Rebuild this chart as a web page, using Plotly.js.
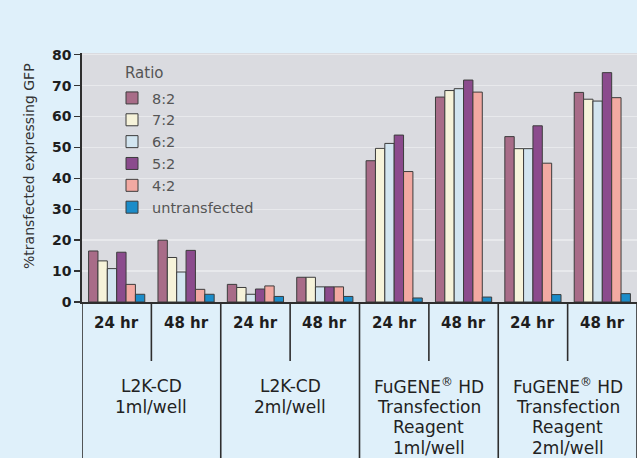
<!DOCTYPE html>
<html><head><meta charset="utf-8">
<script src="https://cdn.plot.ly/plotly-3.0.1.min.js"></script>
<style>html,body{margin:0;padding:0;background:#dff0fa}</style>
</head><body><div id="chart" style="width:637px;height:458px"></div>
<script>
const categories = ["L2K-CD 1ml 24 hr","L2K-CD 1ml 48 hr","L2K-CD 2ml 24 hr","L2K-CD 2ml 48 hr","FuGENE 1ml 24 hr","FuGENE 1ml 48 hr","FuGENE 2ml 24 hr","FuGENE 2ml 48 hr"];
const timeLabels = ["24 hr","48 hr","24 hr","48 hr","24 hr","48 hr","24 hr","48 hr"];
const groupLabels = [
  ["L2K-CD","1ml/well"],
  ["L2K-CD","2ml/well"],
  ["FuGENE<sup>®</sup> HD","Transfection","Reagent","1ml/well"],
  ["FuGENE<sup>®</sup> HD","Transfection","Reagent","2ml/well"]
];
const seriesNames = ["8:2","7:2","6:2","5:2","4:2","untransfected"];
const ratio82 = [16.5,20.0,5.7,8.0,45.7,66.3,53.5,67.8];
const ratio72 = [13.3,14.4,4.7,8.0,49.7,68.4,49.6,65.6];
const ratio62 = [10.8,9.7,2.5,4.9,51.3,69.0,49.6,65.0];
const ratio52 = [16.1,16.7,4.2,4.9,54.0,71.8,57.0,74.2];
const ratio42 = [5.7,4.1,5.2,4.9,42.2,67.9,44.9,66.1];
const untransfected = [2.5,2.5,1.8,1.8,1.3,1.6,2.4,2.7];
const yTicks = [0,10,20,30,40,50,60,70,80];

const seriesValues = [ratio82, ratio72, ratio62, ratio52, ratio42, untransfected];
const colors = ["#a86c88","#f6f3da","#d2e5f0","#8b4b8d","#f2a9a2","#1b8cc9"];

const traces = seriesNames.map((n, i) => ({
  type: "bar", name: n, x: categories, y: seriesValues[i],
  marker: {color: colors[i], line: {color: "#3c3c3c", width: 1}},
  hoverinfo: "none"
}));

// layout geometry helpers (pixel -> paper)
const plotTop = 53, plotBottom = 302, plotH = plotBottom - plotTop, plotL = 82, plotW = 555;
const py = px => -(px - plotBottom) / plotH;
const pxX = px => (px - plotL) / plotW;

const annotations = [];
timeLabels.forEach((t, i) => annotations.push({
  xref: "x", yref: "paper", x: i, y: py(323), yanchor: "middle", xanchor: "center",
  text: t, showarrow: false,
  font: {family: "DejaVu Sans", size: 15, color: "#1e1e1e", weight: "bold"}
}));
const lineY = [386, 406.7, 427.4, 448];
groupLabels.forEach((lines, g) => lines.forEach((t, j) => annotations.push({
  xref: "x", yref: "paper", x: 2 * g + 0.5, y: py(lineY[j]), yanchor: "middle", xanchor: "center",
  text: t, showarrow: false,
  font: {family: "DejaVu Sans", size: 17, color: "#222"}
})));
annotations.push({
  xref: "paper", yref: "paper", x: pxX(29), y: py(166), xanchor: "center", yanchor: "middle",
  text: "%transfected expressing GFP", textangle: -90, showarrow: false,
  font: {family: "DejaVu Sans", size: 14, color: "#333"}
});
annotations.push({
  xref: "paper", yref: "paper", x: pxX(123), y: py(73), xanchor: "left", yanchor: "middle",
  text: "Ratio", showarrow: false,
  font: {family: "DejaVu Sans", size: 15, color: "#555"}
});

const shapes = [];
[-0.5, 1.5, 3.5, 5.5, 7.5].forEach(xv => shapes.push({
  type: "line", xref: "x", yref: "paper", x0: xv, x1: xv, y0: 0, y1: py(460),
  line: {color: "#2e2e2e", width: 1.6}
}));
[0.5, 2.5, 4.5, 6.5].forEach(xv => shapes.push({
  type: "line", xref: "x", yref: "paper", x0: xv, x1: xv, y0: 0, y1: py(361),
  line: {color: "#2e2e2e", width: 1.6}
}));

const layout = {
  width: 637, height: 458,
  margin: {l: plotL, r: 0, t: plotTop, b: 458 - plotBottom, pad: 0},
  paper_bgcolor: "#dff0fa",
  plot_bgcolor: "#dadbe0",
  barmode: "group", bargap: 0.19, bargroupgap: 0,
  showlegend: true,
  legend: {
    x: pxX(112), y: py(82), xanchor: "left", yanchor: "top",
    bgcolor: "rgba(0,0,0,0)",
    font: {family: "DejaVu Sans", size: 14.5, color: "#555"},
    itemclick: false, itemdoubleclick: false
  },
  xaxis: {
    type: "category", range: [-0.5, 7.5], showticklabels: false, ticks: "",
    showgrid: false, zeroline: false, showline: true, linecolor: "#2e2e2e", linewidth: 2,
    fixedrange: true
  },
  yaxis: {
    range: [0, 80.55], tickvals: yTicks, ticktext: yTicks.map(String),
    ticks: "outside", ticklen: 6, tickwidth: 1.5, tickcolor: "#333",
    showline: true, linecolor: "#2e2e2e", linewidth: 1.6,
    showgrid: true, gridcolor: "#e8e9ec", gridwidth: 1.5, zeroline: false,
    tickfont: {family: "DejaVu Sans", size: 14, color: "#1e1e1e", weight: "bold"},
    fixedrange: true
  },
  annotations: annotations,
  shapes: shapes
};

Plotly.newPlot("chart", traces, layout, {displayModeBar: false, staticPlot: true});
</script></body></html>
